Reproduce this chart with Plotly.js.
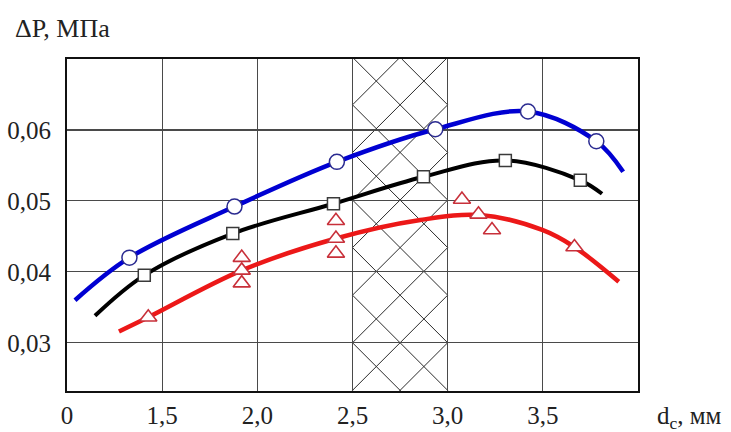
<!DOCTYPE html>
<html>
<head>
<meta charset="utf-8">
<script src="https://cdn.plot.ly/plotly-3.0.1.min.js"></script>
<style>html,body{margin:0;padding:0;background:#fff;}#chart{width:731px;height:432px;}</style>
</head>
<body>
<div id="chart"></div>
<script>
// ---- data ----
var xTickVals = [1.0, 1.5, 2.0, 2.5, 3.0, 3.5];
var xTickText = ['0', '1,5', '2,0', '2,5', '3,0', '3,5'];
var yTickVals = [0.03, 0.04, 0.05, 0.06];
var yTickText = ['0,03', '0,04', '0,05', '0,06'];
var hatchBand = [2.5, 3.0];

// blue curve (circles)
var blueLineX = [1.042, 1.328, 1.880, 2.418, 2.935, 3.422, 3.781, 3.922];
var blueLineY = [0.0360, 0.0420, 0.0492, 0.0555, 0.0601, 0.0626, 0.0584, 0.0541];
var blueMarkX = [1.328, 1.880, 2.418, 2.935, 3.422, 3.781];
var blueMarkY = [0.0420, 0.0492, 0.0555, 0.0601, 0.0626, 0.0584];

// black curve (squares)
var blackLineX = [1.147, 1.406, 1.871, 2.400, 2.873, 3.303, 3.697, 3.811];
var blackLineY = [0.0338, 0.0395, 0.0454, 0.0496, 0.0534, 0.0557, 0.0529, 0.0510];
var blackMarkX = [1.406, 1.871, 2.400, 2.873, 3.303, 3.697];
var blackMarkY = [0.0395, 0.0454, 0.0496, 0.0534, 0.0557, 0.0529];

// red curve (triangles)
var redLineX = [1.273, 1.427, 1.918, 2.413, 2.856, 3.171, 3.497, 3.666, 3.899];
var redLineY = [0.0316, 0.0336, 0.0402, 0.0447, 0.0473, 0.0480, 0.0459, 0.0435, 0.0386];
var redMarkX = [1.427, 1.918, 1.918, 1.918, 2.413, 2.413, 2.413, 3.075, 3.162, 3.233, 3.666];
var redMarkY = [0.0336, 0.0420, 0.0402, 0.0384, 0.0472, 0.0447, 0.0426, 0.0502, 0.0481, 0.0459, 0.0435];

// ---- layout geometry ----
var xRange = [1.0, 4.0];
var yRange = [0.0232, 0.0700];
var M = {l: 67, r: 93, t: 59, b: 41};
var W = 731, H = 432;
var pw = W - M.l - M.r, ph = H - M.t - M.b;
var sx = pw / (xRange[1] - xRange[0]);
var sy = ph / (yRange[1] - yRange[0]);

// crosshatch inside band (45deg lines in screen space)
function hatchPath() {
  var XL = (hatchBand[0] - xRange[0]) * sx, XR = (hatchBand[1] - xRange[0]) * sx;
  var sp = (XR - XL) / 2;
  var Y0 = (yTickVals[0] - yRange[0]) * sy;
  var p = '';
  function toD(X, Y) { return (xRange[0] + X / sx) + ',' + (yRange[0] + Y / sy); }
  for (var k = -20; k <= 20; k++) {
    var c = Y0 + k * sp;
    var a = Math.max(XL, XL - c), b = Math.min(XR, XL + ph - c);
    if (b > a + 0.5) p += 'M' + toD(a, c + a - XL) + 'L' + toD(b, c + b - XL);
    a = Math.max(XL, XL + c - ph); b = Math.min(XR, XL + c);
    if (b > a + 0.5) p += 'M' + toD(a, c - (a - XL)) + 'L' + toD(b, c - (b - XL));
  }
  return p;
}

var font = 'Liberation Serif, Times New Roman, serif';

var traces = [
  {x: blueLineX, y: blueLineY, mode: 'lines', line: {color: '#0000d2', width: 4.5, shape: 'spline', smoothing: 1}, hoverinfo: 'none'},
  {x: blackLineX, y: blackLineY, mode: 'lines', line: {color: '#000000', width: 4, shape: 'spline', smoothing: 1}, hoverinfo: 'none'},
  {x: redLineX, y: redLineY, mode: 'lines', line: {color: '#ec1818', width: 4.5, shape: 'spline', smoothing: 1}, hoverinfo: 'none'},
  {x: blueMarkX, y: blueMarkY, mode: 'markers', marker: {symbol: 'circle', size: 15, color: '#ffffff', line: {color: '#2a2a90', width: 1.5}}},
  {x: blackMarkX, y: blackMarkY, mode: 'markers', marker: {symbol: 'square', size: 12, color: '#ffffff', line: {color: '#3a3a3a', width: 1.5}}},
  {x: redMarkX, y: redMarkY, mode: 'markers', marker: {symbol: 'triangle-up', size: 15, color: '#ffffff', line: {color: '#c8303a', width: 1.6}}}
];

var layout = {
  width: W, height: H,
  margin: M,
  showlegend: false,
  paper_bgcolor: '#ffffff', plot_bgcolor: '#ffffff',
  font: {family: font, size: 25, color: '#222'},
  xaxis: {
    range: xRange, tickvals: xTickVals, ticktext: xTickText,
    showgrid: true, gridcolor: '#4a4a4a', gridwidth: 1.2,
    showline: true, mirror: true, linecolor: '#111', linewidth: 2,
    ticks: '', zeroline: false, ticklabelstandoff: 1,
    tickfont: {family: font, size: 25, color: '#222'}
  },
  yaxis: {
    range: yRange, tickvals: yTickVals, ticktext: yTickText,
    showgrid: true, gridcolor: '#4a4a4a', gridwidth: 1.2,
    showline: true, mirror: true, linecolor: '#111', linewidth: 2,
    ticks: '', zeroline: false, ticklabelstandoff: 9,
    tickfont: {family: font, size: 25, color: '#222'}
  },
  shapes: [
    {type: 'path', xref: 'x', yref: 'y', path: hatchPath(), line: {color: '#2a2a2a', width: 1}, layer: 'below'}
  ],
  annotations: [
    {xref: 'paper', yref: 'paper', x: -54 / pw, y: (H - M.b - 29) / ph, xanchor: 'left', yanchor: 'middle',
     text: 'ΔP, МПа', showarrow: false, font: {family: font, size: 26, color: '#222'}},
    {xref: 'paper', yref: 'paper', x: (655 - M.l) / pw, y: -27 / ph, xanchor: 'left', yanchor: 'middle',
     text: 'd<sub>c</sub>, мм', showarrow: false, font: {family: font, size: 25, color: '#222'}}
  ]
};

Plotly.newPlot('chart', traces, layout, {staticPlot: true, displayModeBar: false});
</script>
</body>
</html>
